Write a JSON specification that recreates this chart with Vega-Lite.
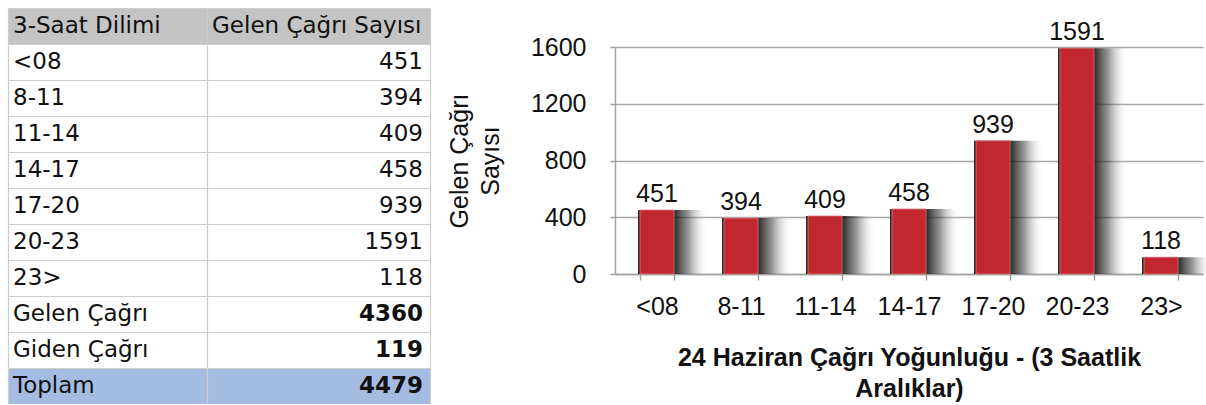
{
  "$schema": "https://vega.github.io/schema/vega-lite/v6.json",
  "background": "white",
  "padding": {"left": 8, "top": 8, "right": 0, "bottom": 0},
  "spacing": 17,
  "config": {"view": {"stroke": null}},
  "datasets": {
    "table": [
      {"label": "3-Saat Dilimi", "value": "Gelen Çağrı Sayısı", "kind": "header"},
      {"label": "<08", "value": "451", "kind": "slot"},
      {"label": "8-11", "value": "394", "kind": "slot"},
      {"label": "11-14", "value": "409", "kind": "slot"},
      {"label": "14-17", "value": "458", "kind": "slot"},
      {"label": "17-20", "value": "939", "kind": "slot"},
      {"label": "20-23", "value": "1591", "kind": "slot"},
      {"label": "23>", "value": "118", "kind": "slot"},
      {"label": "Gelen Çağrı", "value": "4360", "kind": "total"},
      {"label": "Giden Çağrı", "value": "119", "kind": "total"},
      {"label": "Toplam", "value": "4479", "kind": "grand"}
    ],
    "bars": [
      {"slot": "<08", "count": 451},
      {"slot": "8-11", "count": 394},
      {"slot": "11-14", "count": 409},
      {"slot": "14-17", "count": 458},
      {"slot": "17-20", "count": 939},
      {"slot": "20-23", "count": 1591},
      {"slot": "23>", "count": 118}
    ]
  },
  "hconcat": [
    {
      "width": 422,
      "height": 396,
      "data": {"name": "table"},
      "encoding": {
        "y": {
          "field": "label", "type": "ordinal", "sort": null,
          "scale": {"paddingInner": 0, "paddingOuter": 0},
          "axis": {"grid": true, "tickBand": "extent", "gridColor": "#cdcdcd", "gridWidth": 1.2, "labels": false, "ticks": false, "domain": false, "title": null, "zindex": 1}
        }
      },
      "layer": [
        {
          "mark": {"type": "rect"},
          "encoding": {
            "x": {"datum": 0, "type": "quantitative", "scale": {"domain": [0, 1], "nice": false, "zero": false},
                  "axis": {"values": [0, 0.4716, 1], "grid": true, "gridColor": "#cdcdcd", "gridWidth": 1.2, "labels": false, "ticks": false, "domain": false, "title": null, "zindex": 1}},
            "x2": {"datum": 1},
            "fill": {"field": "kind", "type": "nominal", "scale": {"domain": ["header", "slot", "total", "grand"], "range": ["#c4c4c4", "#ffffff", "#ffffff", "#a5bce2"]}, "legend": null}
          }
        },
        {
          "mark": {"type": "text", "align": "left", "baseline": "middle", "dx": 5, "font": "DejaVu Sans", "fontSize": 23, "color": "#111111"},
          "encoding": {"x": {"datum": 0, "type": "quantitative"}, "text": {"field": "label"}}
        },
        {
          "transform": [{"filter": "datum.kind === 'header'"}],
          "mark": {"type": "text", "align": "left", "baseline": "middle", "dx": 5, "font": "DejaVu Sans", "fontSize": 23, "color": "#111111"},
          "encoding": {"x": {"datum": 0.4716, "type": "quantitative"}, "text": {"field": "value"}}
        },
        {
          "transform": [{"filter": "datum.kind === 'slot'"}],
          "mark": {"type": "text", "align": "right", "baseline": "middle", "dx": -7, "font": "DejaVu Sans", "fontSize": 23, "color": "#111111"},
          "encoding": {"x": {"datum": 1, "type": "quantitative"}, "text": {"field": "value"}}
        },
        {
          "transform": [{"filter": "datum.kind === 'total' || datum.kind === 'grand'"}],
          "mark": {"type": "text", "align": "right", "baseline": "middle", "dx": -7, "font": "DejaVu Sans", "fontSize": 23, "fontWeight": "bold", "color": "#111111"},
          "encoding": {"x": {"datum": 1, "type": "quantitative"}, "text": {"field": "value"}}
        }
      ]
    },
    {
      "width": 588,
      "height": 266,
      "data": {"name": "bars"},
      "encoding": {
        "x": {
          "field": "slot", "type": "ordinal", "sort": null,
          "scale": {"paddingInner": 0.6, "paddingOuter": 0.3},
          "axis": {
            "labelAngle": 0, "tickBand": "extent", "tickSize": 6, "tickColor": "#a0a0a0", "tickWidth": 1.5,
            "domainColor": "#a0a0a0", "domainWidth": 1.5,
            "labelFont": "Liberation Sans", "labelFontSize": 25, "labelColor": "#111111", "labelPadding": 14,
            "title": ["24 Haziran Çağrı Yoğunluğu - (3 Saatlik", "Aralıklar)"],
            "titleFont": "Liberation Sans", "titleFontSize": 25, "titleFontWeight": "bold", "titleColor": "#111111",
            "titlePadding": 26, "titleLineHeight": 31
          }
        },
        "y": {
          "field": "count", "type": "quantitative",
          "scale": {"domain": [0, 1600], "nice": false, "range": [266, 39]},
          "axis": {
            "values": [0, 400, 800, 1200, 1600], "format": "d", "grid": true, "gridColor": "#a8a8a8", "gridWidth": 1.5,
            "domainColor": "#a0a0a0", "domainWidth": 1.5, "tickColor": "#a0a0a0", "tickWidth": 1.5, "tickSize": 5,
            "labelFont": "Liberation Sans", "labelFontSize": 25, "labelColor": "#111111", "labelPadding": 24,
            "title": ["Gelen Çağrı", "Sayısı"],
            "titleFont": "Liberation Sans", "titleFontSize": 25, "titleFontWeight": "normal", "titleColor": "#111111",
            "titlePadding": 27, "titleLineHeight": 31
          }
        }
      },
      "layer": [
        {
          "mark": {"type": "bar", "width": 70, "xOffset": 16,
                   "color": {"gradient": "linear", "x1": 0, "y1": 0, "x2": 1, "y2": 0,
                             "stops": [{"offset": 0, "color": "rgba(15,15,15,0.9)"}, {"offset": 0.51, "color": "rgba(15,15,15,0.9)"}, {"offset": 0.72, "color": "rgba(50,50,50,0.5)"}, {"offset": 1, "color": "rgba(255,255,255,0)"}]}},
          "encoding": {}
        },
        {
          "mark": {"type": "bar", "width": 34, "color": "#c1272f", "stroke": "#e07b7f", "strokeWidth": 0.8},
          "encoding": {}
        },
        {
          "mark": {"type": "text", "baseline": "bottom", "dy": -3, "font": "Liberation Sans", "fontSize": 25, "color": "#111111"},
          "encoding": {"text": {"field": "count"}}
        }
      ]
    }
  ]
}
